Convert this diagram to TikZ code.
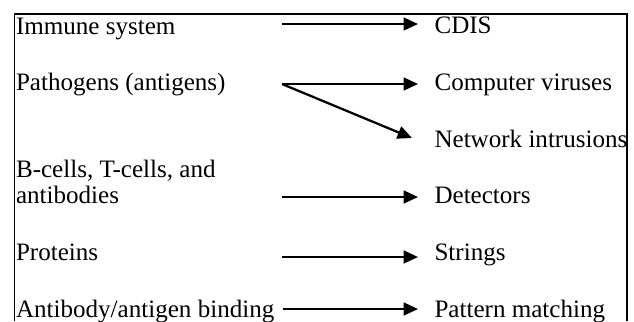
\documentclass[tikz,border=0pt]{standalone}
\RequirePackage{fontspec}
\setmainfont{Liberation Serif}
\RequirePackage{tikz}
\usetikzlibrary{arrows.meta}

\tikzset{
    maparrow/.style={line width=0.85pt,-{Triangle[length=5.4pt,width=4.8pt]}},
    lbl/.style={anchor=base west,inner sep=0pt,font=\fontsize{9.4}{9.4}\selectfont},
}

\begin{document}
\begin{tikzpicture}[x=0.375pt,y=-0.375pt]
                \useasboundingbox (0,0) rectangle (634,321);

                \draw[line width=0.6pt] (14.5,321) -- (14.5,14) -- (627,14) -- (627,321);

                \node[lbl] (immune) at (15.5,34) {Immune system};
                \node[lbl] (pathogens) at (15.5,90.5) {Pathogens (antigens)};
                \node[lbl,align=left] (cells) at (15.5,203) {B-cells, T-cells, and\\antibodies};
                \node[lbl] (proteins) at (15.5,260) {Proteins};
                \node[lbl] (binding) at (15.5,317) {Antibody/antigen binding};

                \node[lbl] (cdis) at (434,33.5) {CDIS};
                \node[lbl] (viruses) at (434,90.5) {Computer viruses};
                \node[lbl] (intrusions) at (434,147) {Network intrusions};
                \node[lbl] (detectors) at (434,203) {Detectors};
                \node[lbl] (strings) at (434,260) {Strings};
                \node[lbl] (matching) at (434,317) {Pattern matching};

                \coordinate (S1) at (282,24);
                \coordinate (E1) at (418,24);
                \coordinate (S2) at (282,84);
                \coordinate (E2) at (418,84);
                \coordinate (E3) at (412,138);
                \coordinate (S4) at (282,197);
                \coordinate (E4) at (418,197);
                \coordinate (S5) at (282,257);
                \coordinate (E5) at (418,257);
                \coordinate (S6) at (283,309);
                \coordinate (E6) at (418,309);

                \draw[maparrow] (S1) -- (E1);
                \draw[maparrow] (S2) -- (E2);
                \draw[maparrow] (S2) -- (E3);
                \draw[maparrow] (S4) -- (E4);
                \draw[maparrow] (S5) -- (E5);
                \draw[maparrow] (S6) -- (E6);
\end{tikzpicture}
\end{document}
